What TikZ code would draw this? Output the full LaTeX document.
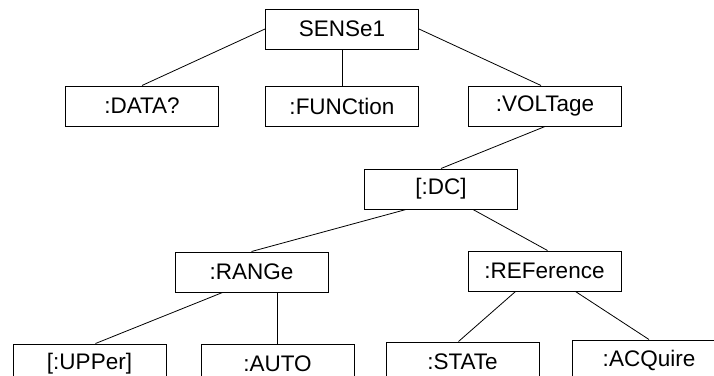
\documentclass[tikz,border=0pt]{standalone}
\usepackage{fontspec}
\setmainfont{Liberation Sans}
\usetikzlibrary{positioning}

\begin{document}
\begin{tikzpicture}[x=1pt, y=-1pt, node distance=36pt,
  cmd/.style={draw, line width=1pt, minimum width=153pt, minimum height=40pt, inner sep=0pt, font=\fontsize{22.5}{25}\selectfont},
  link/.style={line width=0.8pt}]
  \useasboundingbox (0,0) rectangle (714,375);

  \node[cmd] (sense) at (342,29) {SENSe1};
  \node[cmd, below=of sense]                   (func)  {:FUNCtion};
  \node[cmd, left=46pt of func]                (data)  {:DATA?};
  \node[cmd, right=49pt of func]               (volt)  {:VOLTage};
  \node[cmd, below=42pt of volt, xshift=-104pt]  (dc)    {[:DC]};
  \node[cmd, below=42pt of dc, xshift=-189.5pt]  (range) {:RANGe};
  \node[cmd, below=41pt of dc, xshift=103.5pt]   (ref)   {:REFerence};
  \node[cmd, below=51pt of range, xshift=-162pt] (upper) {[:UPPer]};
  \node[cmd, right=34pt of upper]              (auto)  {:AUTO};
  \node[cmd, below=50pt of ref, xshift=-82pt]    (state) {:STATe};
  \node[cmd, below=48pt of ref, xshift=104.5pt]  (acq)   {:ACQuire};

  \draw[link] (sense.west) -- (data.north);
  \draw[link] (sense) -- (func);
  \draw[link] (sense.east) -- ([xshift=-4pt]volt.north);
  \draw[link] (volt.south) -- (dc.north);
  \draw[link] ([xshift=-35pt]dc.south) -- (range.north);
  \draw[link] ([xshift=32pt]dc.south) -- ([xshift=3pt]ref.north);
  \draw[link] ([xshift=-29pt]range.south) -- ([xshift=6pt]upper.north);
  \draw[link] (auto.north |- range.south) -- (auto.north);
  \draw[link] ([xshift=-29pt]ref.south) -- ([xshift=-4pt]state.north);
  \draw[link] ([xshift=31pt]ref.south) -- (acq.north);
\end{tikzpicture}
\end{document}
